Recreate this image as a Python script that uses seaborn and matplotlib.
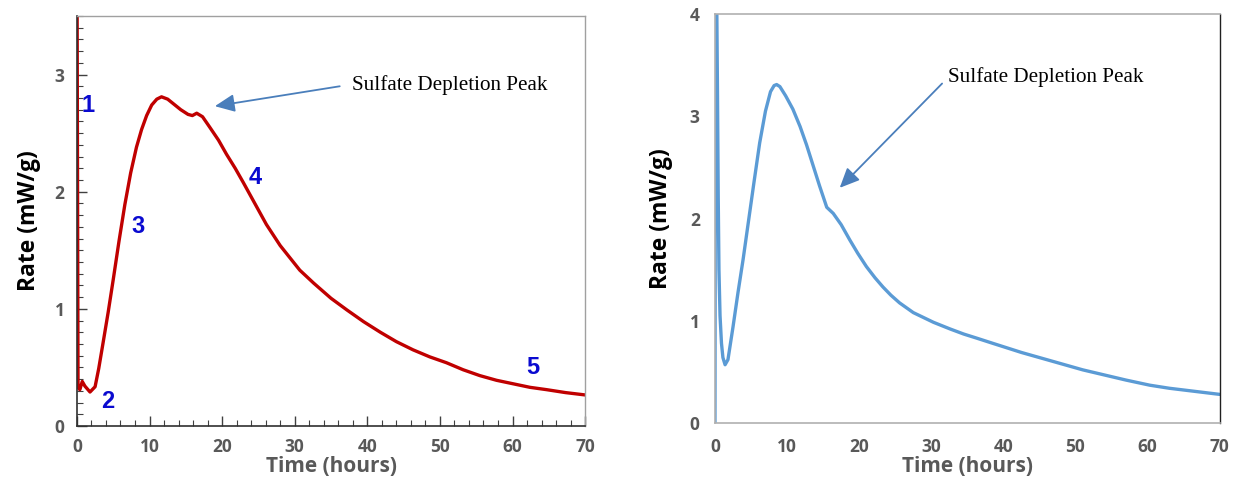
import matplotlib
matplotlib.use("Agg")
import matplotlib.pyplot as plt
import seaborn as sns
import pandas as pd
from matplotlib.ticker import MultipleLocator

# ---- data ----
left_time = [0.0, 0.15, 0.4, 0.73, 1.1, 1.8, 2.5, 3.0, 3.6, 4.3, 5.0, 5.8, 6.6, 7.4, 8.2, 8.9,
             9.6, 10.3, 11.0, 11.65, 12.5, 13.3, 14.3, 15.3, 15.9, 16.5, 17.3, 18.3, 19.5,
             20.6, 21.8, 22.9, 24.5, 26.1, 28.0, 30.7, 32.6, 35.0, 37.2, 39.5, 41.8, 44.0,
             46.3, 48.6, 50.9, 53.2, 55.5, 57.8, 60.1, 62.4, 64.7, 67.3, 70.0]
left_rate = [4.2, 0.33, 0.31, 0.38, 0.34, 0.29, 0.335, 0.49, 0.71, 0.97, 1.25, 1.58, 1.89, 2.16,
             2.38, 2.53, 2.65, 2.74, 2.79, 2.81, 2.79, 2.75, 2.70, 2.66, 2.65, 2.67, 2.64, 2.55,
             2.44, 2.32, 2.20, 2.08, 1.90, 1.72, 1.54, 1.33, 1.22, 1.09, 0.99, 0.89, 0.80, 0.72,
             0.65, 0.59, 0.54, 0.48, 0.43, 0.39, 0.36, 0.33, 0.31, 0.285, 0.265]

right_time = [0.0, 0.08, 0.2, 0.35, 0.45, 0.55, 0.7, 0.9, 1.1, 1.4, 1.8, 2.5, 3.2, 3.9, 4.6,
              5.4, 6.2, 7.0, 7.7, 8.2, 8.55, 9.0, 9.8, 10.8, 11.8, 12.7, 13.6, 14.5, 15.5,
              16.4, 17.5, 18.7, 19.8, 21.0, 22.2, 23.3, 24.4, 25.6, 27.5, 30.3, 32.6, 34.5,
              36.3, 38.5, 40.5, 42.5, 45.0, 48.0, 51.0, 54.0, 57.0, 60.3, 63.0, 66.5, 70.0]
right_rate = [0.0, 4.5, 4.5, 3.2, 2.2, 1.5, 1.05, 0.78, 0.64, 0.57, 0.62, 0.94, 1.28, 1.60,
              1.95, 2.35, 2.74, 3.05, 3.24, 3.30, 3.31, 3.29, 3.20, 3.07, 2.90, 2.72, 2.52,
              2.32, 2.11, 2.05, 1.94, 1.79, 1.66, 1.53, 1.42, 1.33, 1.25, 1.175, 1.08, 0.985,
              0.92, 0.87, 0.83, 0.78, 0.735, 0.69, 0.64, 0.58, 0.52, 0.47, 0.42, 0.37, 0.34,
              0.31, 0.28]

phase_labels = ["1", "2", "3", "4", "5"]
phase_x = [1.6, 4.2, 8.4, 24.6, 62.8]
phase_y = [2.74, 0.21, 1.70, 2.12, 0.50]

x_ticks = [0, 10, 20, 30, 40, 50, 60, 70]
left_y_ticks = [0, 1, 2, 3]
right_y_ticks = [0, 1, 2, 3, 4]
annot_text = "Sulfate Depletion Peak"

# ---- style ----
sns.set_style("white")
plt.rcParams['font.family'] = ['Open Sans', 'DejaVu Sans']

fig = plt.figure(figsize=(12.37, 4.86), dpi=100)
axL = fig.add_axes([0.0622, 0.1235, 0.4108, 0.8436])
axR = fig.add_axes([0.578, 0.1296, 0.408, 0.8416])

gray_txt = "#595959"

# Left panel
dfL = pd.DataFrame({"time": left_time, "rate": left_rate})
sns.lineplot(data=dfL, x="time", y="rate", ax=axL, color="#c00000", lw=2.4, sort=False)
axL.set_xlim(0, 70)
axL.set_ylim(0, 3.5)
axL.set_xticks(x_ticks)
axL.set_yticks(left_y_ticks)
axL.xaxis.set_minor_locator(MultipleLocator(2))
axL.yaxis.set_minor_locator(MultipleLocator(0.1))
axL.tick_params(axis="both", which="major", direction="in", length=7, width=1, color="#404040",
                labelsize=12.5, labelcolor=gray_txt, pad=9)
axL.tick_params(axis="both", which="minor", direction="in", length=4, width=0.8, color="#404040")
axL.tick_params(axis="x", which="both", bottom=True)
axL.tick_params(axis="y", which="both", left=True)
for lab in axL.get_xticklabels() + axL.get_yticklabels():
    lab.set_fontweight("bold")
for s in ["left", "bottom"]:
    axL.spines[s].set_color("#303030")
    axL.spines[s].set_linewidth(1.2)
for s in ["top", "right"]:
    axL.spines[s].set_color("#a0a0a0")
    axL.spines[s].set_linewidth(1.0)
axL.set_xlabel("Time (hours)", fontsize=15, fontweight="bold", color=gray_txt, labelpad=0)
axL.set_ylabel("Rate (mW/g)", fontsize=16.5, fontweight="bold", color="black", labelpad=10)

for lab, xx, yy in zip(phase_labels, phase_x, phase_y):
    axL.text(xx, yy, lab, color="#0a0ad0", fontsize=17, fontweight="bold",
             ha="center", va="center", family=["Liberation Sans", "DejaVu Sans"])

axL.annotate("", xy=(19.0, 2.73), xytext=(36.2, 2.90),
             arrowprops=dict(arrowstyle="-|>,head_length=1.0,head_width=0.45",
                             color="#4a7ebb", lw=1.3, shrinkA=0, shrinkB=0, mutation_scale=12))
axL.text(37.9, 2.91, annot_text, fontsize=15.2, family=["Liberation Serif"],
         ha="left", va="center", color="black")

# Right panel
dfR = pd.DataFrame({"time": right_time, "rate": right_rate})
sns.lineplot(data=dfR, x="time", y="rate", ax=axR, color="#5b9bd5", lw=2.4, sort=False)
axR.set_xlim(0, 70)
axR.set_ylim(0, 4)
axR.set_xticks(x_ticks)
axR.set_yticks(right_y_ticks)
axR.tick_params(axis="both", which="both", length=0, labelsize=12.5, labelcolor=gray_txt, pad=11)
for lab in axR.get_xticklabels() + axR.get_yticklabels():
    lab.set_fontweight("bold")
for s in ["left", "top", "bottom"]:
    axR.spines[s].set_color("#b0b0b0")
    axR.spines[s].set_linewidth(1.2)
axR.spines["right"].set_color("#202020")
axR.spines["right"].set_linewidth(1.0)
axR.set_xlabel("Time (hours)", fontsize=15, fontweight="bold", color=gray_txt, labelpad=0)
axR.set_ylabel("Rate (mW/g)", fontsize=16.5, fontweight="bold", color="black", labelpad=12)

axR.annotate("", xy=(17.3, 2.30), xytext=(31.5, 3.32),
             arrowprops=dict(arrowstyle="-|>,head_length=1.0,head_width=0.45",
                             color="#4a7ebb", lw=1.3, shrinkA=0, shrinkB=0, mutation_scale=12))
axR.text(32.3, 3.38, annot_text, fontsize=15.2, family=["Liberation Serif"],
         ha="left", va="center", color="black")

fig.savefig("out.png", dpi=100)
